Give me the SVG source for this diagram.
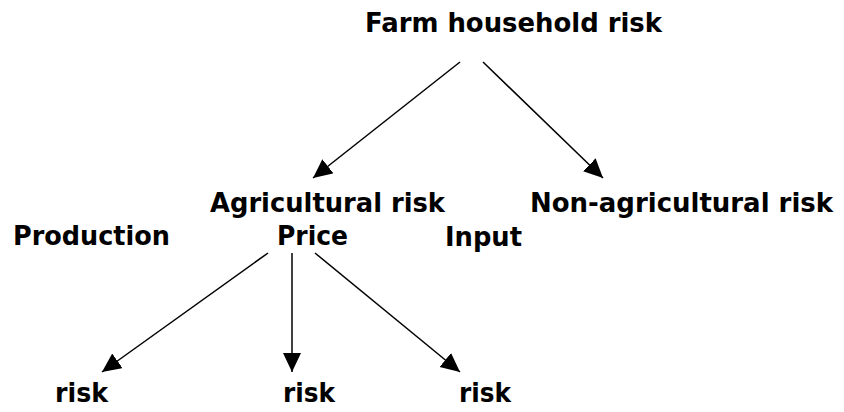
<svg xmlns="http://www.w3.org/2000/svg" width="844" height="412" viewBox="0 0 844 412">
<style>
text{font-family:"DejaVu Sans",Verdana,sans-serif;font-weight:bold;font-size:26px;fill:#000}
.c line{stroke:#000;stroke-width:1.5;marker-end:url(#ah)}
</style>
<defs>
<marker id="ah" markerUnits="userSpaceOnUse" markerWidth="22" markerHeight="20" refX="19" refY="9" orient="auto">
<path d="M0,0 L19,9 L0,18 Z" fill="#000"/>
</marker>
</defs>
<rect width="844" height="412" fill="#fff"/>
<g id="farm"><text x="365" y="32" textLength="297" lengthAdjust="spacingAndGlyphs">Farm household risk</text></g>
<g id="agri"><text x="210" y="212" textLength="235" lengthAdjust="spacingAndGlyphs">Agricultural risk</text></g>
<g id="nonagri"><text x="530" y="212" textLength="303" lengthAdjust="spacingAndGlyphs">Non-agricultural risk</text></g>
<g id="production"><text x="13" y="245" textLength="157" lengthAdjust="spacingAndGlyphs">Production</text></g>
<g id="price"><text x="277" y="245" textLength="71" lengthAdjust="spacingAndGlyphs">Price</text></g>
<g id="input"><text x="445" y="246" textLength="77" lengthAdjust="spacingAndGlyphs">Input</text></g>
<g id="risk1"><text x="55" y="402" textLength="53" lengthAdjust="spacingAndGlyphs">risk</text></g>
<g id="risk2"><text x="283" y="402" textLength="52" lengthAdjust="spacingAndGlyphs">risk</text></g>
<g id="risk3"><text x="459" y="402" textLength="52" lengthAdjust="spacingAndGlyphs">risk</text></g>
<g id="connectors" class="c">
<line x1="460" y1="62" x2="313" y2="178"/>
<line x1="483" y1="62" x2="603" y2="178"/>
<line x1="268" y1="253" x2="102" y2="372"/>
<line x1="292" y1="253" x2="292" y2="372"/>
<line x1="315" y1="253" x2="460" y2="372"/>
</g>
</svg>
